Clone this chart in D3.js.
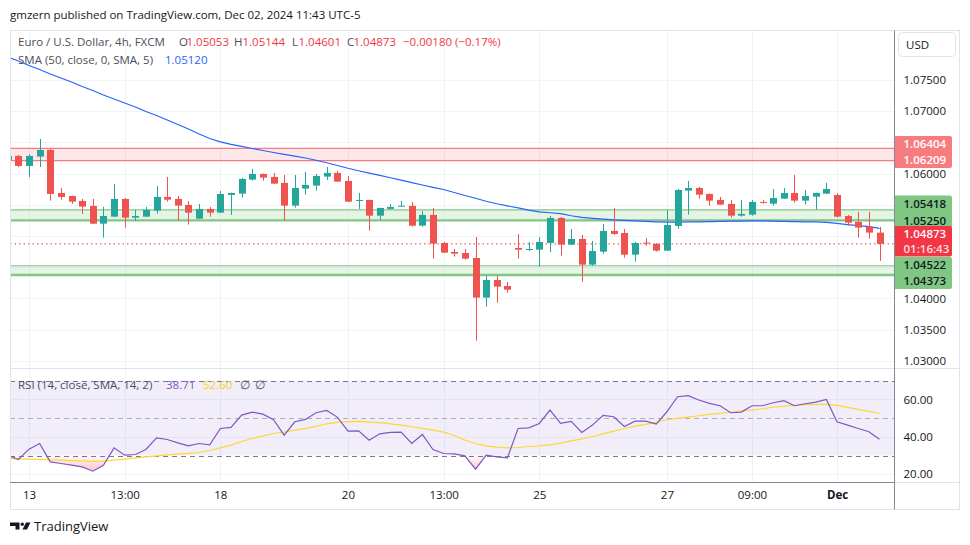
<!DOCTYPE html>
<html><head><meta charset="utf-8">
<script src="https://cdn.jsdelivr.net/npm/d3@7"></script>
<style>
html,body{margin:0;padding:0;background:#fff;}
svg{display:block;font-family:"Open Sans","Noto Sans",sans-serif;}
</style></head><body>
<svg id="c" width="970" height="545"></svg>
<script>
// ---------- DATA ----------
const openP = [
1.06218,1.06283,1.06122,1.06272,1.06379,1.05689,1.05641,1.05561,1.05481,1.05197,
1.05309,1.05593,1.05293,1.05309,1.05405,1.05625,1.05593,1.05497,1.05277,1.05433,
1.05374,1.05657,1.05678,1.05903,1.05994,1.05946,1.05850,1.05486,1.05759,1.05807,
1.05951,1.06010,1.05882,1.05566,1.05577,1.05325,1.05433,1.05470,1.05481,1.05165,
1.05337,1.04888,1.04743,1.04727,1.04647,1.04011,1.04294,1.04198,1.04807,1.04775,
1.04780,1.04888,1.05289,1.04861,1.04952,1.04540,1.04748,1.05080,1.05048,1.04700,
1.04893,1.04872,1.04764,1.05160,1.05727,1.05769,1.05673,1.05577,1.05513,1.05325,
1.05342,1.05545,1.05518,1.05598,1.05689,1.05566,1.05630,1.05678,1.05657,1.05320,
1.05224,1.05149,1.05053];
const highP = [
1.06300,1.06299,1.06310,1.06555,1.06395,1.05769,1.05645,1.05593,1.05593,1.05465,
1.05833,1.05609,1.05417,1.05465,1.05801,1.05946,1.05641,1.05561,1.05513,1.05465,
1.05721,1.05695,1.05930,1.06074,1.06000,1.06010,1.05978,1.05978,1.06026,1.05994,
1.06106,1.06042,1.05962,1.05689,1.05580,1.05452,1.05513,1.05561,1.05545,1.05401,
1.05449,1.04904,1.04791,1.04791,1.04984,1.04358,1.04358,1.04262,1.05032,1.04904,
1.04984,1.05320,1.05305,1.05112,1.05016,1.04920,1.05192,1.05449,1.05112,1.04904,
1.04968,1.04888,1.05417,1.05753,1.05882,1.05785,1.05680,1.05625,1.05577,1.05577,
1.05577,1.05577,1.05753,1.05769,1.05978,1.05737,1.05695,1.05850,1.05689,1.05337,
1.05385,1.05385,1.05144];
const lowP = [
1.06200,1.06106,1.05945,1.06106,1.05566,1.05582,1.05513,1.05353,1.05190,1.04973,
1.05300,1.05133,1.05245,1.05300,1.05358,1.05550,1.05245,1.05181,1.05270,1.05309,
1.05368,1.05337,1.05614,1.05887,1.05887,1.05832,1.05245,1.05454,1.05662,1.05727,
1.05897,1.05865,1.05545,1.05433,1.05085,1.05261,1.05422,1.05468,1.05149,1.05149,
1.04636,1.04727,1.04668,1.04620,1.03321,1.03866,1.03930,1.04091,1.04636,1.04759,
1.04508,1.04743,1.04684,1.04855,1.04267,1.04524,1.04716,1.05016,1.04652,1.04588,
1.04845,1.04748,1.04760,1.05117,1.05342,1.05598,1.05486,1.05498,1.05293,1.05309,
1.05325,1.05518,1.05486,1.05593,1.05534,1.05502,1.05422,1.05673,1.05293,1.05165,
1.04973,1.04957,1.04601];
const closeP = [
1.06283,1.06122,1.06283,1.06379,1.05673,1.05625,1.05550,1.05470,1.05197,1.05320,
1.05593,1.05293,1.05320,1.05417,1.05625,1.05582,1.05486,1.05374,1.05433,1.05374,
1.05673,1.05689,1.05914,1.05994,1.05935,1.05839,1.05486,1.05769,1.05818,1.05962,
1.06010,1.05871,1.05550,1.05577,1.05325,1.05449,1.05465,1.05486,1.05165,1.05337,
1.04877,1.04732,1.04716,1.04636,1.04011,1.04294,1.04187,1.04139,1.04780,1.04791,
1.04904,1.05289,1.04861,1.04952,1.04540,1.04759,1.05080,1.05032,1.04700,1.04888,
1.04877,1.04764,1.05176,1.05737,1.05769,1.05662,1.05566,1.05502,1.05325,1.05353,
1.05545,1.05534,1.05609,1.05689,1.05566,1.05641,1.05689,1.05753,1.05309,1.05213,
1.05133,1.05053,1.04873];
const sma50 = [
1.07869,1.07805,1.07733,1.07669,1.07597,1.07533,1.07468,1.07396,1.07332,1.07260,
1.07196,1.07132,1.07068,1.06996,1.06931,1.06859,1.06787,1.06715,1.06635,1.06563,
1.06507,1.06467,1.06435,1.06402,1.06370,1.06338,1.06309,1.06279,1.06250,1.06213,
1.06173,1.06130,1.06085,1.06045,1.06006,1.05970,1.05933,1.05894,1.05856,1.05817,
1.05780,1.05744,1.05697,1.05649,1.05604,1.05556,1.05516,1.05482,1.05449,1.05413,
1.05386,1.05372,1.05357,1.05324,1.05298,1.05283,1.05269,1.05258,1.05250,1.05242,
1.05234,1.05227,1.05221,1.05221,1.05224,1.05227,1.05231,1.05234,1.05237,1.05238,
1.05240,1.05240,1.05237,1.05234,1.05231,1.05227,1.05224,1.05219,1.05200,1.05182,
1.05166,1.05150,1.05120];
const rsi14 = [
30.10,27.85,33.39,36.42,26.60,25.71,24.81,23.92,21.60,24.81,
34.10,30.17,30.53,33.21,39.46,38.57,36.78,35.17,36.42,35.71,
44.46,45.00,51.61,53.22,52.14,49.11,40.89,48.04,49.29,52.86,
54.11,50.54,43.03,43.21,38.21,41.60,42.32,42.50,36.42,41.25,
33.21,31.06,30.89,29.81,22.67,30.17,29.28,28.74,44.46,44.82,
47.14,54.29,47.14,48.21,42.32,46.25,51.43,50.71,45.53,48.39,
48.39,46.78,53.39,61.43,61.97,59.65,57.86,56.61,52.86,53.22,
56.61,56.61,58.22,59.29,56.61,57.68,58.57,60.00,48.04,46.25,
44.46,42.68,38.71];
const rsiMA = [
28.38,28.21,28.03,27.85,27.67,27.49,27.31,27.13,26.87,26.96,
27.49,28.03,28.74,29.28,29.81,30.35,30.71,31.16,31.60,32.67,
34.10,35.53,37.50,39.10,40.53,41.78,42.50,43.57,44.46,45.53,
46.96,47.68,48.12,48.21,47.86,47.59,46.96,46.25,45.36,44.46,
43.57,42.50,40.71,38.21,36.42,35.17,34.46,34.10,34.28,34.82,
35.17,35.71,36.60,37.85,38.92,40.18,41.60,43.03,44.46,45.71,
46.61,47.86,49.11,49.82,50.54,51.25,51.96,52.50,53.13,53.84,
54.29,55.00,55.89,56.34,56.79,57.23,57.32,57.32,56.79,55.72,
54.64,53.57,52.60];
const timeLabels = ["13","13:00","18","20","13:00","25","27","09:00","Dec"];
const timeIndex  = [2,11,20,32,41,50,62,70,78];
const timeBold   = [false,false,false,false,false,false,false,false,true];
const priceTicks = [1.030,1.035,1.040,1.045,1.050,1.055,1.060,1.065,1.070,1.075];
const rsiTicks = [20,40,60];
const rsiLevels = [70,50,30];
const zoneResistance = [1.06404,1.06209];
const zoneSupport1 = [1.05418,1.05250];
const zoneSupport2 = [1.04522,1.04373];
const lastPrice = 1.04873;
const countdown = "01:16:43";
const legendOHLC = [["O","1.05053"],["H","1.05144"],["L","1.04601"],["C","1.04873"]];
const legendChange = "\u22120.00180 (\u22120.17%)";
const smaLegendValue = "1.05120";
const rsiLegendValues = ["38.71","52.60"];

// ---------- LAYOUT ----------
const svg = d3.select("#c");
const FL=10, FT=30.5, FR=959.5, FB=509.5;      // outer frame
const AX=894.5;                                 // price axis separator
const P_TOP=31, P_BOT=368.5, R_TOP=369, R_BOT=482.5;
const RED="#ef5350", TEAL="#26a69a", TXT="#131722";
// badge label centres (layout)
const badgeCentres = {res:[144,160], s1:[203.5,220.5], s2:[265,281], last:[234,248.5]};

const x = d3.scaleLinear().domain([2,78]).range([29,837]);
const y = d3.scaleLinear().domain([1.030,1.075]).range([360.7,80]);
const yR = d3.scaleLinear().domain([20,60]).range([474.2,399.4]);
const N = openP.length;
const idx = d3.range(N);

svg.append("rect").attr("width",970).attr("height",545).attr("fill","#fff");
const defs = svg.append("defs");
defs.append("clipPath").attr("id","cp").append("rect").attr("x",FL).attr("y",P_TOP).attr("width",AX-FL).attr("height",P_BOT-P_TOP);
defs.append("clipPath").attr("id","cr").append("rect").attr("x",FL).attr("y",R_TOP).attr("width",AX-FL).attr("height",R_BOT-R_TOP);
defs.append("clipPath").attr("id","cos").append("rect").attr("x",FL).attr("y",yR(30)).attr("width",AX-FL).attr("height",R_BOT-yR(30));
const grad = defs.append("linearGradient").attr("id","gos")
  .attr("gradientUnits","userSpaceOnUse").attr("x1",0).attr("x2",0).attr("y1",yR(30)).attr("y2",yR(20));
grad.append("stop").attr("offset",0).attr("stop-color","#f23645").attr("stop-opacity",0.02);
grad.append("stop").attr("offset",1).attr("stop-color","#f23645").attr("stop-opacity",0.35);

// grid
const grid = svg.append("g").attr("stroke","#f0f3fa").attr("stroke-width",1);
grid.selectAll(".gv").data(timeIndex).join("line")
  .attr("x1",d=>Math.round(x(d))+0.5).attr("x2",d=>Math.round(x(d))+0.5).attr("y1",FT).attr("y2",R_BOT);
grid.selectAll(".gh").data(priceTicks).join("line")
  .attr("x1",FL).attr("x2",AX).attr("y1",d=>Math.round(y(d))+0.5).attr("y2",d=>Math.round(y(d))+0.5);
grid.selectAll(".gr").data(rsiTicks).join("line")
  .attr("x1",FL).attr("x2",AX).attr("y1",d=>Math.round(yR(d))+0.5).attr("y2",d=>Math.round(yR(d))+0.5);

// price pane
const pp = svg.append("g").attr("clip-path","url(#cp)");
function zone(z, fill, lineCol, thinW, thickW){
  pp.append("rect").attr("x",FL).attr("width",AX-FL).attr("y",y(z[0])).attr("height",y(z[1])-y(z[0])).attr("fill",fill);
  pp.append("line").attr("x1",FL).attr("x2",AX).attr("y1",y(z[0])).attr("y2",y(z[0])).attr("stroke",lineCol).attr("stroke-width",thinW);
  pp.append("line").attr("x1",FL).attr("x2",AX).attr("y1",y(z[1])).attr("y2",y(z[1])).attr("stroke",lineCol).attr("stroke-width",thickW);
}
zone(zoneResistance,"rgba(242,54,69,0.12)","#f77c80",1.3,1.3);
zone(zoneSupport1,"rgba(129,199,132,0.2)","#81c784",1.2,2.4);
zone(zoneSupport2,"rgba(129,199,132,0.2)","#81c784",1.2,2.4);

pp.append("line").attr("x1",FL).attr("x2",AX).attr("y1",y(lastPrice)).attr("y2",y(lastPrice))
  .attr("stroke","#f23645").attr("stroke-width",1).attr("stroke-dasharray","1.5,3");

pp.append("path").datum(idx).attr("fill","none").attr("stroke","#2962ff").attr("stroke-width",1.2)
  .attr("d",d3.line().x(i=>x(i)).y(i=>y(sma50[i])));

const cg = pp.append("g");
const up = i => closeP[i] >= openP[i];
cg.selectAll(".w").data(idx).join("line")
  .attr("x1",i=>Math.round(x(i))+0.5).attr("x2",i=>Math.round(x(i))+0.5)
  .attr("y1",i=>y(highP[i])).attr("y2",i=>y(lowP[i]))
  .attr("stroke",i=>up(i)?TEAL:RED).attr("stroke-width",1);
cg.selectAll(".b").data(idx).join("rect")
  .attr("x",i=>Math.round(x(i))-3).attr("width",7)
  .attr("y",i=>y(Math.max(openP[i],closeP[i])))
  .attr("height",i=>Math.max(1,Math.abs(y(openP[i])-y(closeP[i]))))
  .attr("fill",i=>up(i)?TEAL:RED);

// RSI pane
const rp = svg.append("g").attr("clip-path","url(#cr)");
rp.append("rect").attr("x",FL).attr("width",AX-FL).attr("y",yR(70)).attr("height",yR(30)-yR(70)).attr("fill","rgba(126,87,194,0.1)");
rp.selectAll(".lv").data(rsiLevels).join("line")
  .attr("x1",FL).attr("x2",AX).attr("y1",d=>Math.round(yR(d))+0.5).attr("y2",d=>Math.round(yR(d))+0.5)
  .attr("stroke",d=>d===50?"rgba(120,123,134,0.55)":"#787b86").attr("stroke-width",1).attr("stroke-dasharray","5,4");
rp.append("g").attr("clip-path","url(#cos)").append("path").datum(idx).attr("fill","url(#gos)")
  .attr("d",d3.area().x(i=>x(i)).y0(yR(30)).y1(i=>yR(rsi14[i])));
rp.append("path").datum(idx).attr("fill","none").attr("stroke","#fdd835").attr("stroke-width",1.2)
  .attr("d",d3.line().x(i=>x(i)).y(i=>yR(rsiMA[i])));
rp.append("path").datum(idx).attr("fill","none").attr("stroke","#7e57c2").attr("stroke-width",1.2)
  .attr("d",d3.line().x(i=>x(i)).y(i=>yR(rsi14[i])));

// frame & separators
const fr = svg.append("g").attr("fill","none");
fr.append("rect").attr("x",FL+0.5).attr("y",FT).attr("width",FR-FL-0.5).attr("height",FB-FT).attr("stroke","#e0e3eb");
fr.append("line").attr("x1",FL).attr("x2",FR).attr("y1",P_BOT).attr("y2",P_BOT).attr("stroke","#e0e3eb");
fr.append("line").attr("x1",AX).attr("x2",FR).attr("y1",R_BOT).attr("y2",R_BOT).attr("stroke","#e0e3eb");
fr.append("line").attr("x1",FL).attr("x2",AX).attr("y1",R_BOT).attr("y2",R_BOT).attr("stroke","#868993");
fr.append("line").attr("x1",AX).attr("x2",AX).attr("y1",FT).attr("y2",FB).attr("stroke","#868993");

// price axis (labels hidden where a badge covers them)
const spans = Object.values(badgeCentres).map(c=>[c[0]-8,c[c.length-1]+8]);
const covered = v => spans.some(s=>y(v)>s[0]-4 && y(v)<s[1]+4);
const pa = svg.append("g").attr("transform",`translate(${AX+9},0)`)
  .call(d3.axisRight(y).tickValues(priceTicks.filter(v=>!covered(v))).tickSize(0).tickPadding(0).tickFormat(d=>d.toFixed(5)));
pa.select(".domain").remove();
pa.selectAll("text").attr("fill",TXT).attr("font-size",11.5).attr("font-family","Open Sans");
// rsi axis
const ra = svg.append("g").attr("transform",`translate(${AX+9},0)`)
  .call(d3.axisRight(yR).tickValues(rsiTicks).tickSize(0).tickPadding(0).tickFormat(d=>d.toFixed(2)));
ra.select(".domain").remove();
ra.selectAll("text").attr("fill",TXT).attr("font-size",11.5).attr("font-family","Open Sans");
// time axis
const ta = svg.append("g").attr("transform",`translate(0,${R_BOT})`)
  .call(d3.axisBottom(x).tickValues(timeIndex).tickSize(0).tickPadding(8).tickFormat((d,i)=>timeLabels[i]));
ta.select(".domain").remove();
ta.selectAll("text").attr("fill",TXT).attr("font-size",11.5).attr("font-family","Open Sans")
  .attr("font-weight",(d,i)=>timeBold[i]?"bold":"normal");

// USD box
svg.append("rect").attr("x",898.5).attr("y",32.5).attr("width",57).attr("height",24).attr("rx",4)
  .attr("fill","#fff").attr("stroke","#e0e3eb");
svg.append("text").attr("x",906).attr("y",45).attr("dy","0.35em").attr("font-size",11.5).attr("fill",TXT).text("USD");

// price badges
function badge(labels, centres, bg, fg, fg2){
  const top = centres[0]-8, bot = centres[centres.length-1]+8;
  svg.append("path").attr("fill",bg)
    .attr("d",`M${AX+0.5},${top}H${950}a2,2 0 0 1 2,2V${bot-2}a2,2 0 0 1 -2,2H${AX+0.5}Z`);
  labels.forEach((t,i)=>svg.append("text").attr("x",AX+9).attr("y",centres[i]).attr("dy","0.35em")
    .attr("font-size",11.5).attr("font-weight",600).attr("fill",i===1&&fg2?fg2:fg).text(t));
}
badge(zoneResistance.map(d=>d.toFixed(5)),badgeCentres.res,"#f77c80","#fff");
badge(zoneSupport1.map(d=>d.toFixed(5)),badgeCentres.s1,"#81c784",TXT);
badge(zoneSupport2.map(d=>d.toFixed(5)),badgeCentres.s2,"#81c784",TXT);
badge([lastPrice.toFixed(5),countdown],badgeCentres.last,"#f23645","#fff","rgba(255,255,255,0.85)");

// legends
const lg = svg.append("g").attr("font-size",11.5);
lg.append("text").attr("x",18).attr("y",42).attr("dy","0.35em").attr("fill","#4a4e59").text("Euro / U.S. Dollar, 4h, FXCM");
const oX=[179,234,292,347], vX=[186.5,242.5,298.5,353.5];
legendOHLC.forEach((p,i)=>{
  lg.append("text").attr("x",oX[i]).attr("y",42).attr("dy","0.35em").attr("fill","#4a4e59").text(p[0]);
  lg.append("text").attr("x",vX[i]).attr("y",42).attr("dy","0.35em").attr("fill","#f23645").text(p[1]);
});
lg.append("text").attr("x",403).attr("y",42).attr("dy","0.35em").attr("fill","#f23645").text(legendChange);
lg.append("text").attr("x",18).attr("y",60).attr("dy","0.35em").attr("fill","#4a4e59").text("SMA (50, close, 0, SMA, 5)");
lg.append("text").attr("x",165).attr("y",60).attr("dy","0.35em").attr("fill","#2962ff").text(smaLegendValue);
lg.append("text").attr("x",18).attr("y",385).attr("dy","0.35em").attr("fill","#4a4e59").text("RSI (14, close, SMA, 14, 2)");
lg.append("text").attr("x",166).attr("y",385).attr("dy","0.35em").attr("fill","#7e57c2").text(rsiLegendValues[0]);
lg.append("text").attr("x",203).attr("y",385).attr("dy","0.35em").attr("fill","#f2d21b").text(rsiLegendValues[1]);
lg.append("text").attr("x",240).attr("y",385).attr("dy","0.35em").attr("fill","#4a4e59").text("\u2205");
lg.append("text").attr("x",255).attr("y",385).attr("dy","0.35em").attr("fill","#4a4e59").text("\u2205");

// header & footer
svg.append("text").attr("x",10).attr("y",14.5).attr("dy","0.35em").attr("font-size",11.5).attr("fill",TXT)
  .text("gmzern published on TradingView.com, Dec 02, 2024 11:43 UTC-5");
const logo = svg.append("g").attr("fill","#131722");
logo.append("path").attr("d","M10,522.5H19.5V529.5H15.5V526H10Z");
logo.append("circle").attr("cx",22.3).attr("cy",524.2).attr("r",1.7);
logo.append("path").attr("d","M26,522.5H30.5L27,529.5H22.5Z");
svg.append("text").attr("x",34).attr("y",526).attr("dy","0.35em").attr("font-size",13).attr("fill",TXT).text("TradingView");
</script>
</body></html>
